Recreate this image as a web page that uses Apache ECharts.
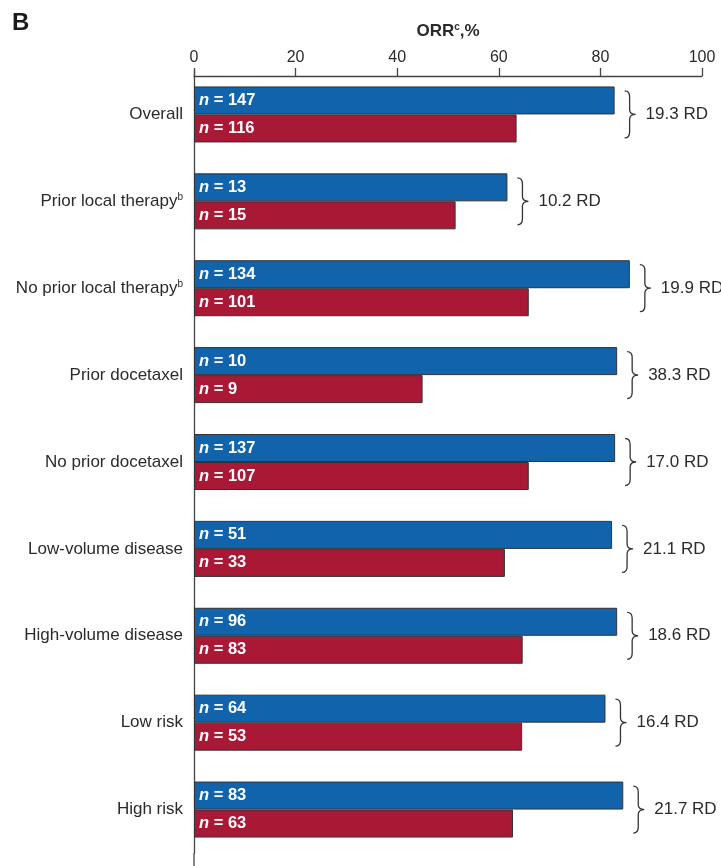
<!DOCTYPE html>
<html>
<head>
<meta charset="utf-8">
<script src="https://cdn.jsdelivr.net/npm/echarts@6/dist/echarts.min.js"></script>
<style>
  html, body { margin: 0; padding: 0; background: #fff; }
  #chart { width: 721px; height: 866px; }
</style>
</head>
<body>
<div id="chart"></div>
<script>
// Subgroups, top to bottom
const categories = [
  'Overall',
  'Prior local therapy',
  'No prior local therapy',
  'Prior docetaxel',
  'No prior docetaxel',
  'Low-volume disease',
  'High-volume disease',
  'Low risk',
  'High risk'
];
const footnotes = ['', 'b', 'b', '', '', '', '', '', ''];

// Patients per arm
const armANumbers = [147, 13, 134, 10, 137, 51, 96, 64, 83];
const armBNumbers = [116, 15, 101, 9, 107, 33, 83, 53, 63];

// Objective response rate, %
const armAOrr = [82.8, 61.7, 85.8, 83.3, 82.9, 82.3, 83.3, 81.0, 84.5];
const armBOrr = [63.5, 51.5, 65.9, 45.0, 65.9, 61.2, 64.7, 64.6, 62.8];

// Rate difference between arms
const rateDiff = ['19.3', '10.2', '19.9', '38.3', '17.0', '21.1', '18.6', '16.4', '21.7'];

// Value axis
const axisMin = 0;
const axisMax = 100;
const axisStep = 20;

const FONT = 'Liberation Sans, Arial, Helvetica, sans-serif';
const BLUE = '#1163AB';
const RED = '#A91835';
const INK = '#2b2b2b';

const chart = echarts.init(document.getElementById('chart'), null, { renderer: 'canvas' });

function nLabel(numbers) {
  return {
    show: true,
    position: 'insideLeft',
    distance: 5,
    formatter: p => '{i|n}{t| = ' + numbers[p.dataIndex] + '}',
    rich: {
      i: { fontStyle: 'italic', fontWeight: 'bold', color: '#fff', fontSize: 16.5, fontFamily: FONT },
      t: { fontWeight: 'bold', color: '#fff', fontSize: 16.5, fontFamily: FONT }
    }
  };
}

// Brace + rate difference placed after the longer bar of each pair
const braceData = categories.map((c, i) => [Math.max(armAOrr[i], armBOrr[i]), i, rateDiff[i]]);

const option = {
  animation: false,
  backgroundColor: '#fff',
  textStyle: { fontFamily: FONT },
  title: {
    text: 'B',
    left: 7,
    top: 6,
    textStyle: { fontSize: 24, fontWeight: 'bold', color: '#1a1a1a', fontFamily: FONT }
  },
  grid: { left: 194, right: 19, top: 71, bottom: 13, containLabel: false },
  xAxis: {
    type: 'value',
    position: 'top',
    min: axisMin,
    max: axisMax,
    interval: axisStep,
    offset: -5,
    name: '{b|ORR}{s|c}{b|,%}',
    nameLocation: 'middle',
    nameGap: 36,
    nameTextStyle: {
      rich: {
        b: { fontSize: 17, fontWeight: 'bold', color: INK, fontFamily: FONT },
        s: { fontSize: 10, fontWeight: 'bold', color: INK, fontFamily: FONT, padding: [0, 0, 8, 0] }
      }
    },
    axisLine: { show: true, lineStyle: { color: '#444', width: 1.3 } },
    axisTick: { show: true, length: 8, lineStyle: { color: '#444', width: 1.3 } },
    axisLabel: { color: INK, fontSize: 16, margin: 10, fontFamily: FONT },
    splitLine: { show: false }
  },
  yAxis: {
    type: 'category',
    data: categories,
    inverse: true,
    axisLine: { show: true, lineStyle: { color: '#444', width: 1.3 } },
    axisTick: { show: false },
    axisLabel: {
      color: INK,
      fontSize: 17,
      margin: 11,
      fontFamily: FONT,
      formatter: (value, idx) => footnotes[idx] ? value + '{s|' + footnotes[idx] + '}' : value,
      rich: {
        s: { fontSize: 10, color: INK, fontFamily: FONT, padding: [0, 0, 8, 0] }
      }
    }
  },
  series: [
    {
      name: 'Arm A',
      type: 'bar',
      data: armAOrr,
      barWidth: 28,
      barGap: '0%',
      itemStyle: { color: BLUE, borderColor: '#333', borderWidth: 1 },
      label: nLabel(armANumbers)
    },
    {
      name: 'Arm B',
      type: 'bar',
      data: armBOrr,
      barWidth: 28,
      barGap: '0%',
      itemStyle: { color: RED, borderColor: '#333', borderWidth: 1 },
      label: nLabel(armBNumbers)
    },
    {
      name: 'Difference',
      type: 'custom',
      data: braceData,
      encode: { x: 0, y: 1 },
      clip: false,
      renderItem: (params, api) => {
        const p = api.coord([api.value(0), api.value(1)]);
        const x0 = p[0] + 10;
        const cy = p[1];
        const top = cy - 23.5;
        const bot = cy + 23.5;
        const d = [
          'M', x0, top,
          'C', x0 + 4, top, x0 + 5, top + 2, x0 + 5, top + 6,
          'L', x0 + 5, cy - 5,
          'C', x0 + 5, cy - 2, x0 + 7, cy, x0 + 11, cy,
          'C', x0 + 7, cy, x0 + 5, cy + 2, x0 + 5, cy + 5,
          'L', x0 + 5, bot - 6,
          'C', x0 + 5, bot - 2, x0 + 4, bot, x0, bot
        ].join(' ');
        return {
          type: 'group',
          children: [
            {
              type: 'path',
              shape: { pathData: d },
              style: { fill: 'none', stroke: '#333', lineWidth: 1.3 }
            },
            {
              type: 'text',
              x: x0 + 21,
              y: cy,
              style: {
                text: braceData[params.dataIndex][2] + ' RD',
                fill: INK,
                font: '17px ' + FONT,
                align: 'left',
                verticalAlign: 'middle'
              }
            }
          ]
        };
      }
    }
  ]
};

chart.setOption(option);

// Continue the vertical baseline to the bottom edge of the figure
const x0px = chart.convertToPixel({ xAxisIndex: 0 }, axisMin);
const gridBottomPx = chart.getHeight() - option.grid.bottom;
chart.setOption({
  graphic: [{
    type: 'line',
    shape: { x1: x0px, y1: gridBottomPx, x2: x0px, y2: chart.getHeight() },
    style: { stroke: '#444', lineWidth: 1.3 }
  }]
});
</script>
</body>
</html>
